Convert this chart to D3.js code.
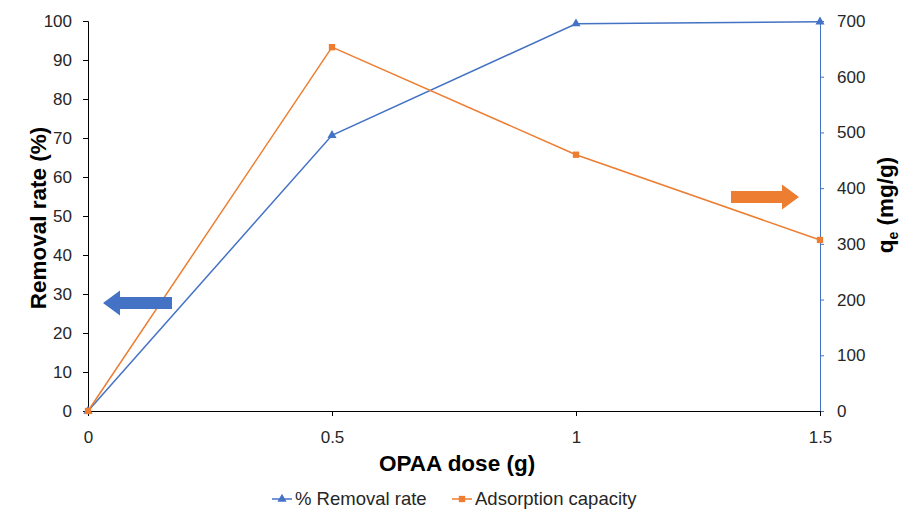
<!DOCTYPE html>
<html>
<head>
<meta charset="utf-8">
<script src="https://cdn.jsdelivr.net/npm/d3@7"></script>
<style>
  body { margin: 0; background: #fff; }
  svg { font-family: "Liberation Sans", Arial, sans-serif; }
</style>
</head>
<body>
<svg id="chart" width="902" height="510"></svg>
<script>
// OPAA dose (g)
const doses = [0, 0.5, 1, 1.5];
// Removal rate (%) – left axis
const removalRate = [0, 70.7, 99.3, 99.8];
// Adsorption capacity q_e (mg/g) – right axis
const adsorptionCapacity = [0, 653, 460, 307];

const xTicks = [0, 0.5, 1, 1.5];
const leftTicks = [0, 10, 20, 30, 40, 50, 60, 70, 80, 90, 100];
const rightTicks = [0, 100, 200, 300, 400, 500, 600, 700];

const blue = "#4472C4";
const orange = "#ED7D31";
const tickFont = 17;

const svg = d3.select("#chart");
const plotLeft = 88, plotRight = 820, plotTop = 21, plotBottom = 411;

const x = d3.scaleLinear().domain([0, 1.5]).range([plotLeft, plotRight]);
const yL = d3.scaleLinear().domain([0, 100]).range([plotBottom, plotTop]);
const yR = d3.scaleLinear().domain([0, 700]).range([plotBottom, plotTop]);

function styleTicks(g, domainColor) {
  g.select(".domain").attr("stroke", domainColor);
  g.selectAll(".tick line").attr("stroke", domainColor);
  g.selectAll("text").attr("font-size", tickFont).attr("fill", "#262626")
    .attr("font-family", "Liberation Sans, Arial, sans-serif");
}

// Left axis
const gL = svg.append("g").attr("transform", `translate(${plotLeft},0)`)
  .call(d3.axisLeft(yL).tickValues(leftTicks).tickSize(5).tickPadding(11).tickFormat(d3.format("d")));
styleTicks(gL, "#000");

// Right axis
const gR = svg.append("g").attr("transform", `translate(${plotRight},0)`)
  .call(d3.axisRight(yR).tickValues(rightTicks).tickSize(4).tickPadding(13).tickFormat(d3.format("d")));
styleTicks(gR, blue);

// Bottom axis
const gX = svg.append("g").attr("transform", `translate(0,${plotBottom})`)
  .call(d3.axisBottom(x).tickValues(xTicks).tickSize(5).tickPadding(15).tickFormat(d => d));
styleTicks(gX, "#000");

// Series lines
const lineL = d3.line().x((d, i) => x(doses[i])).y(d => yL(d));
const lineR = d3.line().x((d, i) => x(doses[i])).y(d => yR(d));

svg.append("path").datum(removalRate).attr("d", lineL)
  .attr("fill", "none").attr("stroke", blue).attr("stroke-width", 1.5);
svg.append("path").datum(adsorptionCapacity).attr("d", lineR)
  .attr("fill", "none").attr("stroke", orange).attr("stroke-width", 1.5);

const tri = d3.symbol().type(d3.symbolTriangle).size(36);
const sq = d3.symbol().type(d3.symbolSquare).size(40);

svg.selectAll(".m-r").data(removalRate).join("path")
  .attr("transform", (d, i) => `translate(${x(doses[i])},${yL(d)})`)
  .attr("d", tri).attr("fill", blue);
svg.selectAll(".m-a").data(adsorptionCapacity).join("path")
  .attr("transform", (d, i) => `translate(${x(doses[i])},${yR(d)})`)
  .attr("d", sq).attr("fill", orange);

// Arrows pointing to each series' axis
function arrow(x0, x1, yc, dir, color) {
  const bodyH = 6, headH = 12.5, headL = 17;
  let pts;
  if (dir < 0) {
    pts = [[x0, yc], [x0 + headL, yc - headH], [x0 + headL, yc - bodyH], [x1, yc - bodyH],
           [x1, yc + bodyH], [x0 + headL, yc + bodyH], [x0 + headL, yc + headH]];
  } else {
    pts = [[x1, yc], [x1 - headL, yc - headH], [x1 - headL, yc - bodyH], [x0, yc - bodyH],
           [x0, yc + bodyH], [x1 - headL, yc + bodyH], [x1 - headL, yc + headH]];
  }
  svg.append("polygon").attr("points", pts.map(p => p.join(",")).join(" ")).attr("fill", color);
}
arrow(103, 172, 303, -1, blue);
arrow(731, 799, 197, 1, orange);

// Axis titles
svg.append("text").attr("transform", "translate(46,218) rotate(-90)")
  .attr("text-anchor", "middle").attr("font-size", 22.5).attr("font-weight", "bold").attr("fill", "#000")
  .text("Removal rate (%)");

const rt = svg.append("text").attr("transform", "translate(893,205) rotate(-90)")
  .attr("text-anchor", "middle").attr("font-size", 22.5).attr("font-weight", "bold").attr("fill", "#000");
rt.append("tspan").text("q");
rt.append("tspan").attr("font-size", 14).attr("dy", 5).text("e");
rt.append("tspan").attr("dy", -5).text(" (mg/g)");

svg.append("text").attr("x", 457).attr("y", 471)
  .attr("text-anchor", "middle").attr("font-size", 22.5).attr("font-weight", "bold").attr("fill", "#000")
  .text("OPAA dose (g)");

// Legend
const legend = [
  { name: "% Removal rate", color: blue, sym: tri, x: 272 },
  { name: "Adsorption capacity", color: orange, sym: sq, x: 452 }
];
const lg = svg.append("g");
legend.forEach(l => {
  lg.append("line").attr("x1", l.x).attr("x2", l.x + 20).attr("y1", 499).attr("y2", 499)
    .attr("stroke", l.color).attr("stroke-width", 1.5);
  lg.append("path").attr("transform", `translate(${l.x + 10},499)`).attr("d", l.sym).attr("fill", l.color);
  lg.append("text").attr("x", l.x + 23).attr("y", 505).attr("font-size", 18.5).attr("fill", "#262626").text(l.name);
});
</script>
</body>
</html>
